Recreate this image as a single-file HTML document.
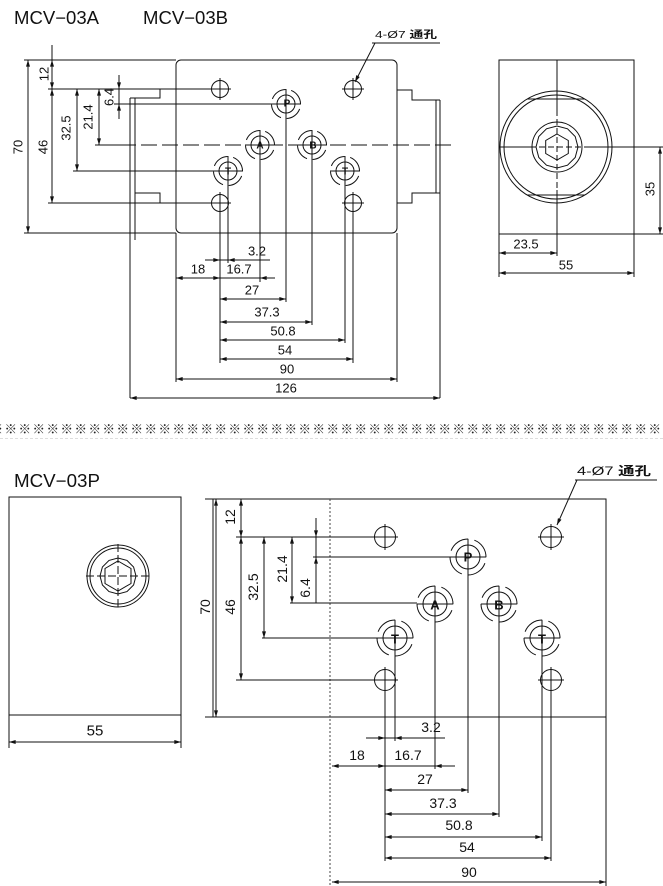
<!DOCTYPE html>
<html><head><meta charset="utf-8"><style>
html,body{margin:0;padding:0;background:#fff;}
svg{display:block;}
text{font-family:"Liberation Sans","Noto Sans CJK JP",sans-serif;fill:#111;}
</style></head><body>
<svg width="663" height="886" viewBox="0 0 663 886" xmlns="http://www.w3.org/2000/svg">
<defs>
<marker id="a" viewBox="0 0 10 6" refX="10" refY="3" markerWidth="7" markerHeight="4" markerUnits="userSpaceOnUse" orient="auto-start-reverse"><path d="M0,0L10,3L0,6z" fill="#111"/></marker>
<g id="h1" fill="none" stroke="#111" stroke-width="1"><circle r="8.5"/><line x1="-11" y1="0" x2="11" y2="0"/><line x1="0" y1="-11" x2="0" y2="11"/></g>
<g id="p1" fill="none" stroke="#111" stroke-width="1"><circle r="9"/><circle r="14.5" stroke-dasharray="17 5.8" transform="rotate(20)"/><line x1="-15" y1="0" x2="15" y2="0"/><line x1="0" y1="-15" x2="0" y2="15"/></g>
<g id="h2" fill="none" stroke="#111" stroke-width="1"><circle r="10.5"/><line x1="-13" y1="0" x2="13" y2="0"/><line x1="0" y1="-13" x2="0" y2="13"/></g>
<g id="p2" fill="none" stroke="#111" stroke-width="1"><circle r="12"/><circle r="18" stroke-dasharray="22 6.3" transform="rotate(20)"/><line x1="-18" y1="0" x2="18" y2="0"/><line x1="0" y1="-18" x2="0" y2="18"/></g>
</defs>

<!-- Titles -->
<text x="14" y="24" font-size="18" textLength="85" lengthAdjust="spacingAndGlyphs">MCV−03A</text>
<text x="143" y="24" font-size="18" textLength="85" lengthAdjust="spacingAndGlyphs">MCV−03B</text>
<text x="14" y="487" font-size="18" textLength="86" lengthAdjust="spacingAndGlyphs">MCV−03P</text>

<!-- ================= TOP LEFT VIEW ================= -->
<g stroke="#111" stroke-width="1" fill="none">
<rect x="176" y="60" width="221" height="173" rx="5"/>
<polyline points="176,89 160,89 160,98 130,98"/>
<polyline points="135,193 160,193 160,203 176,203"/>
<line x1="130" y1="98" x2="130" y2="398"/>
<line x1="135" y1="98" x2="135" y2="240"/>
<polyline points="397,90 412,90 412,100 440,100"/>
<polyline points="440,193 412,193 412,203 397,203"/>
<line x1="440" y1="100" x2="440" y2="398"/>
<line x1="436" y1="100" x2="436" y2="193"/>

<line x1="24" y1="60" x2="176" y2="60"/>
<line x1="24" y1="233" x2="176" y2="233"/>
<line x1="48" y1="89" x2="160" y2="89"/>
<line x1="176" y1="89" x2="211" y2="89"/>
<line x1="114" y1="104" x2="271" y2="104"/>
<line x1="95" y1="145" x2="120" y2="145"/>
<line x1="120" y1="145" x2="455" y2="145" stroke-dasharray="16 5"/>
<line x1="73" y1="171" x2="213" y2="171"/>
<line x1="48" y1="203" x2="160" y2="203"/>
<line x1="176" y1="203" x2="211" y2="203"/>

<line x1="28" y1="60" x2="28" y2="233" marker-start="url(#a)" marker-end="url(#a)"/>
<line x1="52" y1="45" x2="52" y2="60"/>
<line x1="52" y1="60" x2="52" y2="89" marker-start="url(#a)" marker-end="url(#a)"/>
<line x1="52" y1="89" x2="52" y2="203" marker-start="url(#a)" marker-end="url(#a)"/>
<line x1="77" y1="89" x2="77" y2="171" marker-start="url(#a)" marker-end="url(#a)"/>
<line x1="99" y1="89" x2="99" y2="145" marker-start="url(#a)" marker-end="url(#a)"/>
<line x1="119" y1="75" x2="119" y2="89" marker-end="url(#a)"/>
<line x1="119" y1="89" x2="119" y2="104"/>
<line x1="119" y1="119" x2="119" y2="104" marker-end="url(#a)"/>

<line x1="220" y1="212" x2="220" y2="363"/>
<line x1="228" y1="186" x2="228" y2="263"/>
<line x1="260" y1="160" x2="260" y2="282"/>
<line x1="286" y1="119" x2="286" y2="302"/>
<line x1="312" y1="160" x2="312" y2="325"/>
<line x1="345" y1="186" x2="345" y2="343"/>
<line x1="353" y1="212" x2="353" y2="363"/>
<line x1="176" y1="233" x2="176" y2="382"/>
<line x1="397" y1="233" x2="397" y2="382"/>

<line x1="205" y1="260" x2="220" y2="260" marker-end="url(#a)"/>
<line x1="220" y1="260" x2="228" y2="260"/>
<line x1="270" y1="260" x2="228" y2="260" marker-end="url(#a)"/>
<line x1="176" y1="278" x2="220" y2="278" marker-start="url(#a)" marker-end="url(#a)"/>
<line x1="220" y1="278" x2="260" y2="278"/>
<line x1="275" y1="278" x2="260" y2="278" marker-end="url(#a)"/>
<line x1="220" y1="299" x2="286" y2="299" marker-start="url(#a)" marker-end="url(#a)"/>
<line x1="220" y1="322" x2="312" y2="322" marker-start="url(#a)" marker-end="url(#a)"/>
<line x1="220" y1="340" x2="345" y2="340" marker-start="url(#a)" marker-end="url(#a)"/>
<line x1="220" y1="359" x2="353" y2="359" marker-start="url(#a)" marker-end="url(#a)"/>
<line x1="176" y1="379" x2="397" y2="379" marker-start="url(#a)" marker-end="url(#a)"/>
<line x1="130" y1="398" x2="440" y2="398" marker-start="url(#a)" marker-end="url(#a)"/>

<!-- leader -->
<line x1="372" y1="43" x2="440" y2="43"/>
<line x1="375" y1="43" x2="355" y2="82" marker-end="url(#a)"/>
</g>
<use href="#h1" x="220" y="89"/>
<use href="#h1" x="353" y="89"/>
<use href="#h1" x="220" y="203"/>
<use href="#h1" x="353" y="203"/>
<use href="#p1" x="286" y="104"/>
<use href="#p1" x="260" y="145"/>
<use href="#p1" x="312" y="145"/>
<use href="#p1" x="228" y="171"/>
<use href="#p1" x="345" y="171"/>
<g font-size="10" font-weight="bold" text-anchor="middle" dominant-baseline="central">
<text x="287" y="104">P</text><text x="260" y="146">A</text><text x="313" y="146">B</text><text x="228" y="172">T</text><text x="345" y="172">T</text>
</g>
<text x="375" y="38" font-size="10" textLength="62" lengthAdjust="spacingAndGlyphs">4-Ø7 <tspan font-weight="bold">通孔</tspan></text>

<g font-size="13" text-anchor="middle" dominant-baseline="central">
<text transform="translate(18,147) rotate(-90)">70</text>
<text transform="translate(44,74) rotate(-90)">12</text>
<text transform="translate(43,147) rotate(-90)">46</text>
<text transform="translate(66,128) rotate(-90)">32.5</text>
<text transform="translate(88,117) rotate(-90)">21.4</text>
<text transform="translate(109,97) rotate(-90)">6.4</text>
<text x="257" y="251">3.2</text>
<text x="198" y="269">18</text>
<text x="239" y="269">16.7</text>
<text x="252" y="290">27</text>
<text x="267" y="312">37.3</text>
<text x="283" y="331">50.8</text>
<text x="285" y="350">54</text>
<text x="287" y="369">90</text>
<text x="286" y="388">126</text>
</g>

<!-- ================= TOP RIGHT VIEW ================= -->
<g stroke="#111" stroke-width="1" fill="none">
<rect x="499" y="60" width="135" height="174"/>
<circle cx="556" cy="147" r="56"/>
<circle cx="556" cy="147" r="52"/>
<line x1="527" y1="99" x2="585" y2="99"/>
<line x1="527" y1="195" x2="585" y2="195"/>
<circle cx="557" cy="147" r="25"/>
<polygon transform="translate(557,147)" points="21,0 18.19,10.5 10.5,18.19 0,21 -10.5,18.19 -18.19,10.5 -21,0 -18.19,-10.5 -10.5,-18.19 0,-21 10.5,-18.19 18.19,-10.5"/>
<polygon transform="translate(557,147)" points="0,-13 11.3,-6.5 11.3,6.5 0,13 -11.3,6.5 -11.3,-6.5"/>
<line x1="557" y1="60" x2="557" y2="110"/>
<line x1="557" y1="110" x2="557" y2="190" stroke-dasharray="6 3"/>
<line x1="557" y1="190" x2="557" y2="256"/>
<line x1="499" y1="147" x2="530" y2="147"/>
<line x1="530" y1="147" x2="585" y2="147" stroke-dasharray="6 3"/>
<line x1="585" y1="147" x2="663" y2="147"/>
<line x1="634" y1="234" x2="663" y2="234"/>
<line x1="660" y1="147" x2="660" y2="234" marker-start="url(#a)" marker-end="url(#a)"/>
<line x1="499" y1="234" x2="499" y2="277"/>
<line x1="634" y1="234" x2="634" y2="277"/>
<line x1="499" y1="253" x2="557" y2="253" marker-start="url(#a)" marker-end="url(#a)"/>
<line x1="499" y1="273" x2="634" y2="273" marker-start="url(#a)" marker-end="url(#a)"/>
</g>
<g font-size="13" text-anchor="middle" dominant-baseline="central">
<text transform="translate(650,189) rotate(-90)">35</text>
<text x="526" y="244">23.5</text>
<text x="566" y="265">55</text>
</g>

<!-- ================= SEPARATOR ================= -->
<text y="428" font-size="12.5" font-weight="bold" dominant-baseline="central" style="fill:#222;font-family:'Noto Sans CJK JP','WenQuanYi Zen Hei',sans-serif" x="-9.5 4.5 18.5 32.5 46.5 60.5 74.5 88.5 102.5 116.5 130.5 144.5 158.5 172.5 186.5 200.5 214.5 228.5 242.5 256.5 270.5 284.5 298.5 312.5 326.5 340.5 354.5 368.5 382.5 396.5 410.5 424.5 438.5 452.5 466.5 480.5 494.5 508.5 522.5 536.5 550.5 564.5 578.5 592.5 606.5 620.5 634.5 648.5 662.5">※※※※※※※※※※※※※※※※※※※※※※※※※※※※※※※※※※※※※※※※※※※※※※※※※</text>
<line x1="0" y1="438.5" x2="663" y2="438.5" stroke="#ddd" stroke-width="1" stroke-dasharray="3 2"/>

<!-- ================= BOTTOM LEFT VIEW ================= -->
<g stroke="#111" stroke-width="1" fill="none">
<rect x="9" y="497" width="172" height="218"/>
<circle cx="118" cy="576" r="31"/>
<circle cx="118" cy="576" r="28"/>
<polygon transform="translate(118,576)" points="18,0 15.59,9 9,15.59 0,18 -9,15.59 -15.59,9 -18,0 -15.59,-9 -9,-15.59 0,-18 9,-15.59 15.59,-9"/>
<polygon transform="translate(118,576)" points="0,-15 13,-7.5 13,7.5 0,15 -13,7.5 -13,-7.5"/>
<line x1="86" y1="576" x2="150" y2="576" stroke-dasharray="8 3"/>
<line x1="118" y1="544" x2="118" y2="608" stroke-dasharray="8 3"/>
<line x1="9" y1="715" x2="9" y2="748"/>
<line x1="181" y1="715" x2="181" y2="748"/>
<line x1="9" y1="742" x2="181" y2="742" marker-start="url(#a)" marker-end="url(#a)"/>
</g>
<text x="95" y="731" font-size="15" text-anchor="middle" dominant-baseline="central">55</text>

<!-- ================= BOTTOM RIGHT VIEW ================= -->
<g stroke="#111" stroke-width="1" fill="none">
<rect x="213" y="499" width="393" height="218"/>
<line x1="205" y1="499" x2="213" y2="499"/>
<line x1="205" y1="717" x2="213" y2="717"/>
<line x1="330" y1="499" x2="330" y2="886" stroke="#444" stroke-dasharray="2 2"/>
<line x1="216" y1="499" x2="216" y2="717" marker-start="url(#a)" marker-end="url(#a)"/>
<line x1="241" y1="499" x2="241" y2="537" marker-start="url(#a)" marker-end="url(#a)"/>
<line x1="241" y1="537" x2="241" y2="680" marker-start="url(#a)" marker-end="url(#a)"/>
<line x1="264" y1="537" x2="264" y2="638" marker-start="url(#a)" marker-end="url(#a)"/>
<line x1="292" y1="537" x2="292" y2="603" marker-start="url(#a)" marker-end="url(#a)"/>
<line x1="316" y1="518" x2="316" y2="537" marker-end="url(#a)"/>
<line x1="316" y1="537" x2="316" y2="557"/>
<line x1="316" y1="576" x2="316" y2="557" marker-end="url(#a)"/>
<line x1="316" y1="576" x2="316" y2="603"/>

<line x1="236" y1="537" x2="374" y2="537"/>
<line x1="313" y1="557" x2="450" y2="557"/>
<line x1="290" y1="603" x2="417" y2="603"/>
<line x1="262" y1="638" x2="377" y2="638"/>
<line x1="236" y1="680" x2="374" y2="680"/>

<line x1="385" y1="691" x2="385" y2="861"/>
<line x1="395" y1="656" x2="395" y2="741"/>
<line x1="435" y1="622" x2="435" y2="769"/>
<line x1="468" y1="575" x2="468" y2="793"/>
<line x1="499" y1="622" x2="499" y2="817"/>
<line x1="542" y1="656" x2="542" y2="841"/>
<line x1="551" y1="691" x2="551" y2="861"/>
<line x1="606" y1="717" x2="606" y2="886"/>

<line x1="366" y1="738" x2="385" y2="738" marker-end="url(#a)"/>
<line x1="385" y1="738" x2="395" y2="738"/>
<line x1="445" y1="738" x2="395" y2="738" marker-end="url(#a)"/>
<line x1="332" y1="766" x2="385" y2="766" marker-start="url(#a)" marker-end="url(#a)"/>
<line x1="385" y1="766" x2="435" y2="766"/>
<line x1="455" y1="766" x2="435" y2="766" marker-end="url(#a)"/>
<line x1="385" y1="790" x2="468" y2="790" marker-start="url(#a)" marker-end="url(#a)"/>
<line x1="385" y1="814" x2="499" y2="814" marker-start="url(#a)" marker-end="url(#a)"/>
<line x1="385" y1="837" x2="542" y2="837" marker-start="url(#a)" marker-end="url(#a)"/>
<line x1="385" y1="858" x2="551" y2="858" marker-start="url(#a)" marker-end="url(#a)"/>
<line x1="332" y1="882" x2="606" y2="882" marker-start="url(#a)" marker-end="url(#a)"/>

<line x1="575" y1="480" x2="657" y2="480"/>
<line x1="577" y1="480" x2="557" y2="525" marker-end="url(#a)"/>
</g>
<use href="#h2" x="385" y="537"/>
<use href="#h2" x="551" y="537"/>
<use href="#h2" x="385" y="680"/>
<use href="#h2" x="551" y="680"/>
<use href="#p2" x="468" y="557"/>
<use href="#p2" x="435" y="604"/>
<use href="#p2" x="499" y="604"/>
<use href="#p2" x="395" y="638"/>
<use href="#p2" x="542" y="638"/>
<g font-size="13" font-weight="bold" text-anchor="middle" dominant-baseline="central">
<text x="468" y="557">P</text><text x="435" y="605">A</text><text x="499" y="605">B</text><text x="395" y="639">T</text><text x="542" y="639">T</text>
</g>
<text x="577" y="475" font-size="12" textLength="74" lengthAdjust="spacingAndGlyphs">4-Ø7 <tspan font-weight="bold">通孔</tspan></text>

<g font-size="14" text-anchor="middle" dominant-baseline="central">
<text transform="translate(205,607) rotate(-90)">70</text>
<text transform="translate(230,517) rotate(-90)">12</text>
<text transform="translate(230,607) rotate(-90)">46</text>
<text transform="translate(253,587) rotate(-90)">32.5</text>
<text transform="translate(282,569) rotate(-90)">21.4</text>
<text transform="translate(305,588) rotate(-90)">6.4</text>
<text x="431" y="727">3.2</text>
<text x="357" y="755">18</text>
<text x="408" y="755">16.7</text>
<text x="425" y="779">27</text>
<text x="443" y="803">37.3</text>
<text x="459" y="825">50.8</text>
<text x="467" y="847">54</text>
<text x="469" y="872">90</text>
</g>
</svg>
</body></html>
